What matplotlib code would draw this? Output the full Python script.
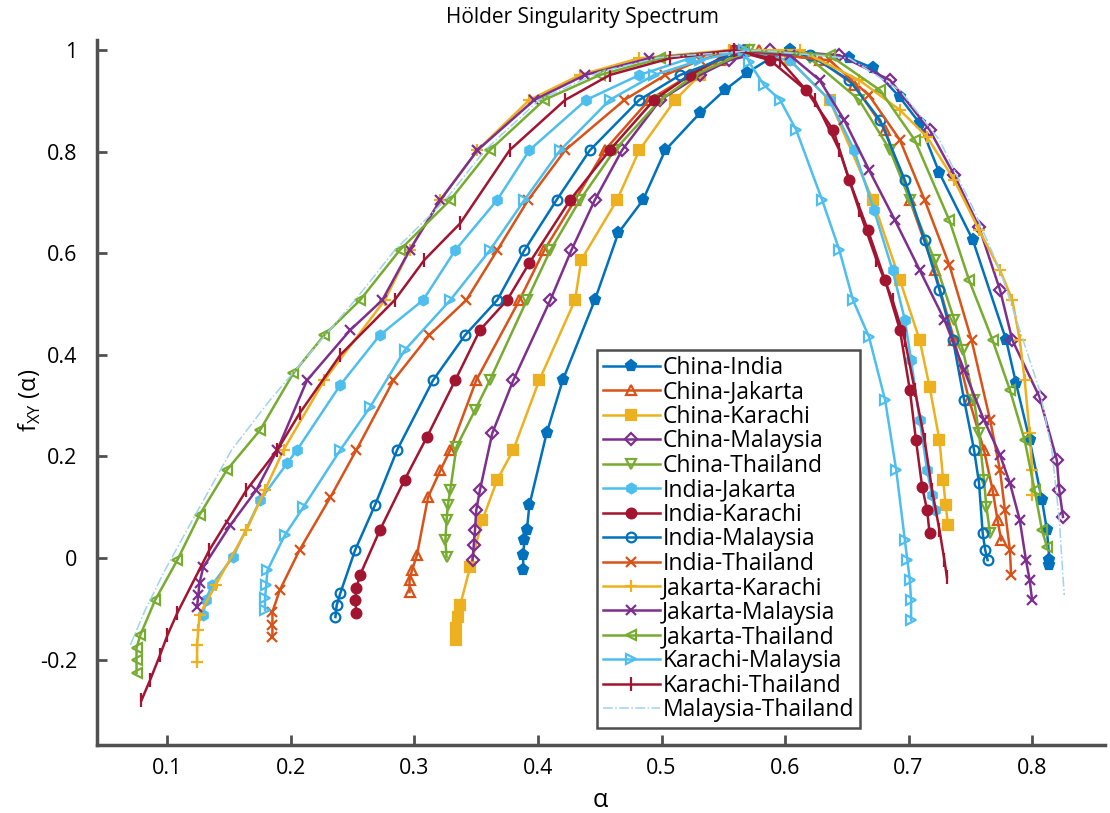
import matplotlib
matplotlib.use('Agg')
import matplotlib.pyplot as plt

plt.rcParams['font.family'] = ['Open Sans', 'DejaVu Sans']

# series names as in the legend
names = ['China-India', 'China-Jakarta', 'China-Karachi', 'China-Malaysia', 'China-Thailand',
         'India-Jakarta', 'India-Karachi', 'India-Malaysia', 'India-Thailand', 'Jakarta-Karachi',
         'Jakarta-Malaysia', 'Jakarta-Thailand', 'Karachi-Malaysia', 'Karachi-Thailand',
         'Malaysia-Thailand']

# alpha / f(alpha), left end -> peak -> right end
china_india_a = [0.388, 0.388, 0.389, 0.391, 0.393, 0.407, 0.420, 0.446, 0.465, 0.485, 0.503, 0.531, 0.551, 0.569, 0.588, 0.604,
                 0.652, 0.671, 0.693, 0.709, 0.725, 0.752, 0.779, 0.787, 0.798, 0.808, 0.812, 0.814, 0.814]
china_india_f = [-0.024, 0.006, 0.035, 0.055, 0.104, 0.246, 0.350, 0.508, 0.640, 0.705, 0.803, 0.876, 0.921, 0.955, 0.984, 1.0,
                 0.984, 0.965, 0.907, 0.856, 0.758, 0.626, 0.429, 0.344, 0.232, 0.114, 0.055, -0.004, -0.014]

china_jakarta_a = [0.296, 0.296, 0.298, 0.302, 0.311, 0.321, 0.329, 0.350, 0.385, 0.405, 0.430, 0.454, 0.490, 0.523, 0.547, 0.579,
                   0.628, 0.656, 0.681, 0.701, 0.721, 0.737, 0.749, 0.761, 0.768, 0.772, 0.775]
china_jakarta_f = [-0.067, -0.043, -0.024, 0.006, 0.120, 0.173, 0.213, 0.350, 0.508, 0.606, 0.705, 0.803, 0.902, 0.951, 0.980, 1.0,
                   0.980, 0.931, 0.843, 0.705, 0.567, 0.429, 0.311, 0.213, 0.134, 0.075, 0.035]

china_karachi_a = [0.334, 0.334, 0.335, 0.337, 0.345, 0.355, 0.367, 0.380, 0.401, 0.430, 0.435, 0.464, 0.482, 0.511, 0.531, 0.563,
                   0.604, 0.636, 0.671, 0.693, 0.709, 0.717, 0.725, 0.728, 0.730, 0.732]
china_karachi_f = [-0.161, -0.138, -0.116, -0.093, -0.018, 0.075, 0.154, 0.213, 0.350, 0.508, 0.587, 0.705, 0.803, 0.902, 0.951, 0.996,
                   0.980, 0.902, 0.705, 0.547, 0.429, 0.337, 0.232, 0.154, 0.104, 0.065]

china_malaysia_a = [0.347, 0.348, 0.349, 0.350, 0.353, 0.363, 0.380, 0.410, 0.427, 0.446, 0.468, 0.499, 0.531, 0.555, 0.588,
                    0.644, 0.685, 0.717, 0.737, 0.757, 0.774, 0.784, 0.806, 0.820, 0.822, 0.825]
china_malaysia_f = [-0.004, 0.026, 0.055, 0.094, 0.134, 0.246, 0.350, 0.508, 0.606, 0.705, 0.803, 0.902, 0.951, 0.980, 1.0,
                    0.990, 0.941, 0.843, 0.754, 0.652, 0.528, 0.429, 0.317, 0.193, 0.134, 0.081]

china_thailand_a = [0.326, 0.325, 0.326, 0.327, 0.329, 0.334, 0.349, 0.361, 0.391, 0.410, 0.434, 0.462, 0.499, 0.527, 0.571,
                    0.620, 0.660, 0.685, 0.701, 0.721, 0.737, 0.744, 0.753, 0.757, 0.761, 0.763, 0.766]
china_thailand_f = [0.002, 0.035, 0.075, 0.104, 0.134, 0.219, 0.291, 0.350, 0.508, 0.606, 0.705, 0.803, 0.902, 0.951, 1.0,
                    0.984, 0.902, 0.803, 0.705, 0.587, 0.469, 0.409, 0.311, 0.246, 0.154, 0.100, 0.049]

india_jakarta_a = [0.129, 0.131, 0.136, 0.153, 0.175, 0.197, 0.205, 0.240, 0.272, 0.307, 0.333, 0.367, 0.393, 0.439, 0.482, 0.523, 0.559,
                   0.604, 0.636, 0.656, 0.672, 0.687, 0.697, 0.702, 0.709, 0.715, 0.719, 0.721]
india_jakarta_f = [-0.112, -0.083, -0.053, 0.002, 0.114, 0.187, 0.213, 0.341, 0.439, 0.508, 0.606, 0.705, 0.803, 0.902, 0.951, 0.984, 1.0,
                   0.980, 0.902, 0.803, 0.685, 0.567, 0.469, 0.390, 0.272, 0.173, 0.124, 0.094]

india_karachi_a = [0.253, 0.252, 0.253, 0.256, 0.272, 0.292, 0.310, 0.333, 0.353, 0.375, 0.393, 0.426, 0.458, 0.494, 0.523, 0.559,
                   0.588, 0.617, 0.639, 0.652, 0.667, 0.681, 0.693, 0.701, 0.706, 0.711, 0.715, 0.717]
india_karachi_f = [-0.108, -0.083, -0.059, -0.033, 0.055, 0.154, 0.238, 0.350, 0.449, 0.508, 0.581, 0.705, 0.803, 0.902, 0.951, 1.0,
                   0.980, 0.921, 0.843, 0.744, 0.646, 0.547, 0.449, 0.331, 0.232, 0.140, 0.094, 0.049]

india_malaysia_a = [0.236, 0.237, 0.240, 0.252, 0.268, 0.286, 0.315, 0.341, 0.367, 0.389, 0.415, 0.442, 0.482, 0.515, 0.567,
                    0.620, 0.652, 0.677, 0.697, 0.713, 0.725, 0.736, 0.745, 0.753, 0.757, 0.760, 0.762, 0.764]
india_malaysia_f = [-0.116, -0.093, -0.069, 0.016, 0.104, 0.213, 0.350, 0.439, 0.508, 0.606, 0.705, 0.803, 0.902, 0.951, 1.0,
                    0.990, 0.941, 0.862, 0.744, 0.626, 0.528, 0.429, 0.311, 0.213, 0.148, 0.049, 0.016, -0.004]

india_thailand_a = [0.185, 0.185, 0.185, 0.191, 0.207, 0.232, 0.253, 0.283, 0.312, 0.342, 0.367, 0.392, 0.422, 0.470, 0.503, 0.531, 0.559,
                    0.636, 0.668, 0.693, 0.713, 0.733, 0.751, 0.766, 0.774, 0.778, 0.782, 0.783]
india_thailand_f = [-0.156, -0.132, -0.106, -0.063, 0.016, 0.120, 0.213, 0.350, 0.439, 0.508, 0.606, 0.705, 0.803, 0.902, 0.951, 0.980, 1.0,
                    0.980, 0.911, 0.823, 0.705, 0.577, 0.429, 0.272, 0.173, 0.094, 0.016, -0.033]

jakarta_karachi_a = [0.124, 0.124, 0.125, 0.126, 0.139, 0.164, 0.179, 0.194, 0.227, 0.276, 0.296, 0.321, 0.351, 0.393, 0.434, 0.482, 0.555,
                     0.612, 0.660, 0.693, 0.715, 0.737, 0.757, 0.774, 0.784, 0.790, 0.794, 0.798, 0.800, 0.800]
jakarta_karachi_f = [-0.205, -0.171, -0.142, -0.112, -0.053, 0.055, 0.134, 0.213, 0.350, 0.508, 0.606, 0.705, 0.803, 0.902, 0.951, 0.984, 1.0,
                     1.0, 0.941, 0.882, 0.829, 0.744, 0.646, 0.567, 0.508, 0.429, 0.350, 0.246, 0.173, 0.124]

jakarta_malaysia_a = [0.124, 0.125, 0.126, 0.129, 0.151, 0.172, 0.189, 0.213, 0.248, 0.274, 0.296, 0.321, 0.351, 0.397, 0.438, 0.490, 0.563,
                      0.604, 0.628, 0.648, 0.668, 0.689, 0.709, 0.729, 0.745, 0.761, 0.774, 0.782, 0.790, 0.795, 0.798, 0.800]
jakarta_malaysia_f = [-0.096, -0.073, -0.049, -0.018, 0.065, 0.134, 0.213, 0.350, 0.449, 0.508, 0.606, 0.705, 0.803, 0.902, 0.951, 0.984, 1.0,
                      0.990, 0.941, 0.862, 0.764, 0.665, 0.567, 0.469, 0.370, 0.272, 0.203, 0.148, 0.075, -0.004, -0.043, -0.083]

jakarta_thailand_a = [0.075, 0.075, 0.075, 0.078, 0.090, 0.108, 0.126, 0.148, 0.175, 0.202, 0.227, 0.256, 0.288, 0.329, 0.361, 0.405, 0.450,
                      0.499, 0.567, 0.636, 0.677, 0.705, 0.733, 0.749, 0.768, 0.782, 0.794, 0.802, 0.808, 0.812]
jakarta_thailand_f = [-0.226, -0.201, -0.177, -0.152, -0.083, -0.004, 0.085, 0.173, 0.252, 0.364, 0.439, 0.508, 0.606, 0.705, 0.803, 0.902,
                      0.951, 0.984, 1.0, 0.990, 0.921, 0.823, 0.665, 0.547, 0.429, 0.331, 0.232, 0.134, 0.055, 0.022]

karachi_malaysia_a = [0.179, 0.179, 0.180, 0.181, 0.195, 0.210, 0.240, 0.264, 0.292, 0.329, 0.361, 0.389, 0.418, 0.458, 0.494, 0.531, 0.567,
                      0.571, 0.583, 0.596, 0.609, 0.630, 0.644, 0.655, 0.668, 0.681, 0.690, 0.697, 0.699, 0.701, 0.702, 0.702]
karachi_malaysia_f = [-0.102, -0.079, -0.053, -0.024, 0.045, 0.100, 0.213, 0.297, 0.409, 0.508, 0.606, 0.705, 0.803, 0.902, 0.951, 0.980, 1.0,
                      0.976, 0.931, 0.902, 0.843, 0.705, 0.606, 0.508, 0.435, 0.311, 0.173, 0.035, -0.004, -0.043, -0.083, -0.122]

karachi_thailand_a = [0.079, 0.086, 0.094, 0.100, 0.108, 0.134, 0.164, 0.189, 0.207, 0.240, 0.284, 0.308, 0.337, 0.377, 0.422, 0.458, 0.507,
                      0.559, 0.596, 0.624, 0.644, 0.660, 0.674, 0.687, 0.697, 0.705, 0.713, 0.719, 0.725, 0.729, 0.731]
karachi_thailand_f = [-0.280, -0.240, -0.191, -0.152, -0.108, 0.016, 0.134, 0.213, 0.285, 0.400, 0.508, 0.587, 0.659, 0.803, 0.902, 0.951,
                      0.984, 1.0, 0.980, 0.902, 0.803, 0.685, 0.587, 0.508, 0.429, 0.331, 0.232, 0.134, 0.055, -0.004, -0.037]

malaysia_thailand_a = [0.070, 0.082, 0.098, 0.118, 0.152, 0.183, 0.252, 0.284, 0.325, 0.357, 0.401, 0.450, 0.499, 0.579,
                       0.652, 0.693, 0.725, 0.753, 0.774, 0.790, 0.806, 0.816, 0.822, 0.826]
malaysia_thailand_f = [-0.171, -0.102, -0.024, 0.065, 0.213, 0.311, 0.508, 0.606, 0.705, 0.803, 0.902, 0.957, 0.986, 1.0,
                       0.984, 0.921, 0.823, 0.685, 0.567, 0.449, 0.331, 0.213, 0.075, -0.073]

xticks = [0.1, 0.2, 0.3, 0.4, 0.5, 0.6, 0.7, 0.8]
yticks = [-0.2, 0, 0.2, 0.4, 0.6, 0.8, 1.0]
ytick_labels = ['-0.2', '0', '0.2', '0.4', '0.6', '0.8', '1']

alphas = [china_india_a, china_jakarta_a, china_karachi_a, china_malaysia_a, china_thailand_a,
          india_jakarta_a, india_karachi_a, india_malaysia_a, india_thailand_a, jakarta_karachi_a,
          jakarta_malaysia_a, jakarta_thailand_a, karachi_malaysia_a, karachi_thailand_a, malaysia_thailand_a]
fvals = [china_india_f, china_jakarta_f, china_karachi_f, china_malaysia_f, china_thailand_f,
         india_jakarta_f, india_karachi_f, india_malaysia_f, india_thailand_f, jakarta_karachi_f,
         jakarta_malaysia_f, jakarta_thailand_f, karachi_malaysia_f, karachi_thailand_f, malaysia_thailand_f]

# matlab default colour order
c1, c2, c3, c4, c5, c6, c7 = '#0072BD', '#D95319', '#EDB120', '#7E2F8E', '#77AC30', '#4DBEEE', '#A2142F'
colors = [c1, c2, c3, c4, c5, c6, c7, c1, c2, c3, c4, c5, c6, c7, '#9FD3EE']
markers = ['p', '^', 's', 'D', 'v', 'h', 'o', 'o', 'x', '+', 'x', '<', '>', '|', '']
filled = [True, False, True, False, False, True, True, False, True, True, True, False, False, True, False]
msizes = [8, 7, 7, 6, 7, 7, 7, 7, 7, 9, 7, 7, 7, 10, 0]

fig = plt.figure(figsize=(11.1, 8.13), dpi=100)
ax = fig.add_axes([97/1110, 68/813, 1008/1110, 705/813])

for i in range(len(names)):
    ls = '-.' if markers[i] == '' else '-'
    lw = 1.1 if markers[i] == '' else 1.8
    ax.plot(alphas[i], fvals[i], ls, color=colors[i], lw=lw,
            marker=markers[i] if markers[i] else None, markersize=msizes[i],
            markerfacecolor=colors[i] if filled[i] else 'none',
            markeredgecolor=colors[i], markeredgewidth=1.6, label=names[i])

ax.set_xlim(0.043, 0.859)
ax.set_ylim(-0.368, 1.02)
ax.set_xticks(xticks)
ax.set_xticklabels([str(t) for t in xticks])
ax.set_yticks(yticks)
ax.set_yticklabels(ytick_labels)

for s in ['top', 'right']:
    ax.spines[s].set_visible(False)
for s in ['left', 'bottom']:
    ax.spines[s].set_linewidth(2.5)
    ax.spines[s].set_color('#505050')
ax.tick_params(direction='in', length=7, width=2, color='#505050', labelsize=15.5)
ax.tick_params(axis='y', pad=14)
ax.tick_params(axis='x', pad=9)

fig.text(0.525, 0.979, 'Hölder Singularity Spectrum', ha='center', va='center', fontsize=15)
fig.text(30/1110, 1 - 400/813, r'f$_{\mathregular{XY}}$ (α)', rotation=90, ha='center', va='center', fontsize=17)
fig.text(600/1110, 1 - 800/813, 'α', ha='center', va='center', fontsize=18)

leg = ax.legend(loc='lower left', bbox_to_anchor=(0.496, 0.024), fontsize=16.5, frameon=True, fancybox=False,
                handlelength=2.5, handletextpad=0.1, labelspacing=0.02, borderpad=0.25, borderaxespad=0)
leg.get_frame().set_edgecolor('#222222')
leg.get_frame().set_linewidth(1.8)

plt.savefig('out.png', dpi=100)
